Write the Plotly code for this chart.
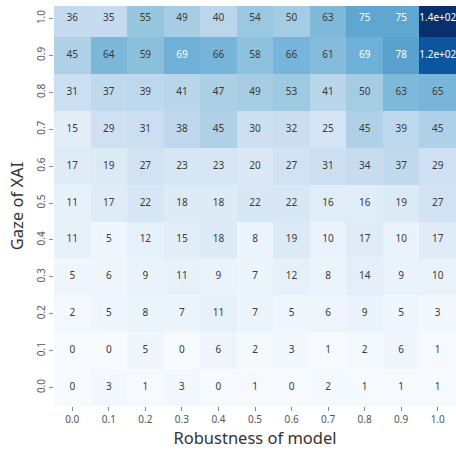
import plotly.graph_objects as go

x_labels = ["0.0", "0.1", "0.2", "0.3", "0.4", "0.5", "0.6", "0.7", "0.8", "0.9", "1.0"]
y_labels_top_down = ["1.0", "0.9", "0.8", "0.7", "0.6", "0.5", "0.4", "0.3", "0.2", "0.1", "0.0"]

row_10 = [36, 35, 55, 49, 40, 54, 50, 63, 75, 75, 140]
row_09 = [45, 64, 59, 69, 66, 58, 66, 61, 69, 78, 120]
row_08 = [31, 37, 39, 41, 47, 49, 53, 41, 50, 63, 65]
row_07 = [15, 29, 31, 38, 45, 30, 32, 25, 45, 39, 45]
row_06 = [17, 19, 27, 23, 23, 20, 27, 31, 34, 37, 29]
row_05 = [11, 17, 22, 18, 18, 22, 22, 16, 16, 19, 27]
row_04 = [11, 5, 12, 15, 18, 8, 19, 10, 17, 10, 17]
row_03 = [5, 6, 9, 11, 9, 7, 12, 8, 14, 9, 10]
row_02 = [2, 5, 8, 7, 11, 7, 5, 6, 9, 5, 3]
row_01 = [0, 0, 5, 0, 6, 2, 3, 1, 2, 6, 1]
row_00 = [0, 3, 1, 3, 0, 1, 0, 2, 1, 1, 1]

rows_top_down = [row_10, row_09, row_08, row_07, row_06, row_05,
                 row_04, row_03, row_02, row_01, row_00]

# bottom-up order for plotly categorical axis
y_labels = y_labels_top_down[::-1]
z = rows_top_down[::-1]

blues = ['#f7fbff', '#deebf7', '#c6dbef', '#9ecae1', '#6baed6',
         '#4292c6', '#2171b5', '#08519c', '#08306b']
colorscale = [[i / (len(blues) - 1), c] for i, c in enumerate(blues)]

zmin = min(min(r) for r in z)
zmax = max(max(r) for r in z)


def hex2rgb(h):
    h = h.lstrip('#')
    return [int(h[i:i + 2], 16) / 255 for i in (0, 2, 4)]


def cmap(v):
    t = (v - zmin) / (zmax - zmin)
    n = len(blues) - 1
    i = min(int(t * n), n - 1)
    f = t * n - i
    a, b = hex2rgb(blues[i]), hex2rgb(blues[i + 1])
    return [a[k] + (b[k] - a[k]) * f for k in range(3)]


def lum(rgb):
    lin = [c / 12.92 if c <= 0.03928 else ((c + 0.055) / 1.055) ** 2.4 for c in rgb]
    return 0.2126 * lin[0] + 0.7152 * lin[1] + 0.0722 * lin[2]


tx, ty, tt, tc = [], [], [], []
for j, yl in enumerate(y_labels):
    for i, xl in enumerate(x_labels):
        v = z[j][i]
        tx.append(xl)
        ty.append(yl)
        tt.append(format(v, ".2g"))
        tc.append("white" if lum(cmap(v)) < 0.408 else "#3a3a3a")

fig = go.Figure()
fig.add_trace(go.Heatmap(
    x=x_labels, y=y_labels, z=z,
    colorscale=colorscale, zmin=zmin, zmax=zmax,
    showscale=False, xgap=0, ygap=0, hoverinfo="skip",
))
fig.add_trace(go.Scatter(
    x=tx, y=ty, text=tt, mode="text",
    textfont=dict(family="Noto Sans, sans-serif", size=10, color=tc),
    textposition="middle center", hoverinfo="skip", showlegend=False,
    cliponaxis=False,
))

fig.update_layout(
    width=456, height=450,
    margin=dict(l=54, r=0, t=6, b=44),
    plot_bgcolor="white", paper_bgcolor="white",
    showlegend=False,
    font=dict(family="Noto Sans, sans-serif", color="#333333"),
)
fig.update_xaxes(
    type="category", range=[-0.5, 10.5], showgrid=False, zeroline=False,
    ticks="outside", ticklen=4, tickcolor="#888888", tickwidth=1,
    tickfont=dict(size=10, color="#555555"),
    title=dict(text="Robustness of model", font=dict(size=16.5, color="#333333"), standoff=6),
)
fig.update_yaxes(
    type="category", range=[-0.5, 10.34], showgrid=False, zeroline=False,
    ticks="outside", ticklen=4, tickcolor="#888888", tickwidth=1,
    tickangle=-90,
    tickfont=dict(size=10, color="#555555"),
    title=dict(text="Gaze of XAI", font=dict(size=16.5, color="#333333"), standoff=6),
)

fig.write_html(
    "out.html",
    config={"displayModeBar": False},
    post_script="document.body.style.margin='0';document.body.style.overflow='hidden';",
)
